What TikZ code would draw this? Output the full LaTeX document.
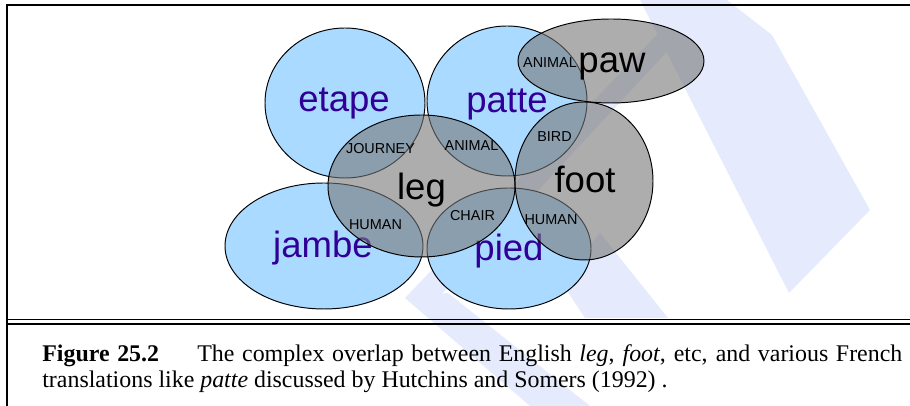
\documentclass[tikz,border=0pt]{standalone}
\usepackage{fontspec}
\setmainfont{Liberation Serif}
\newfontfamily\arialfont{Liberation Sans}
\definecolor{frenchblue}{RGB}{170, 218, 255}
\definecolor{frenchink}{RGB}{48, 0, 150}
\definecolor{englishgray}{RGB}{119, 119, 119}
\definecolor{draftmark}{RGB}{229, 235, 252}
\usetikzlibrary{shapes, positioning}

\begin{document}
\begin{tikzpicture}[
  frenchset/.style={fill=frenchblue, draw=black, line width=0.55pt},
  englishset/.style={fill=englishgray, fill opacity=0.6, draw=black, draw opacity=1, line width=0.55pt},
  frenchword/.style={font=\arialfont\fontsize{20.8}{21}\selectfont, text=frenchink, anchor=base, inner sep=0pt},
  englishword/.style={font=\arialfont\fontsize{20.8}{21}\selectfont, text=black, anchor=base, inner sep=0pt},
  senselabel/.style={font=\arialfont\fontsize{8.2}{9}\selectfont, text=black, anchor=base, inner sep=0pt}
]
  \useasboundingbox (0,0) rectangle (18.2, 8.12);

  % Watermark behind
  \fill[draftmark] (12.80, 8.12) -- (14.54, 8.12) -- (15.44, 7.42) -- (17.40, 3.92) -- (15.78, 2.26) -- cycle;
  \fill[draftmark] (13.80, 8.12) -- (14.30, 8.12) -- (8.80, 2.20) -- (8.10, 2.16) -- cycle;
  \fill[draftmark] (8.10, 2.16) -- (8.96, 2.26) -- (11.80, 0) -- (10.60, 0) -- cycle;
  \fill[draftmark] (12.00, 3.46) -- (13.36, 1.76) -- (11.70, 1.76) -- (11.20, 2.52) -- cycle;

  % French sets
  \draw[frenchset] (6.90, 6.06) ellipse (1.60 and 1.50);
  \draw[frenchset] (10.14, 6.10) ellipse (1.60 and 1.50);
  \draw[frenchset] (6.48, 3.20) ellipse (1.98 and 1.26);
  \draw[frenchset] (10.18, 3.15) ellipse (1.64 and 1.21);

  \node[frenchword] (etape) at (6.88, 5.88) {etape};
  \node[frenchword] (patte) at (10.14, 5.86) {patte};
  \node[frenchword] (jambe) at (6.46, 2.96) {jambe};
  \node[frenchword] (pied) at (10.18, 2.90) {pied};

  % English sets
  \draw[englishset] (8.43, 4.40) ellipse (1.87 and 1.42);
  \draw[englishset] (11.68, 4.50) ellipse (1.38 and 1.58);
  \draw[englishset] (12.22, 6.90) ellipse (1.86 and 0.84);

  \node[englishword] (leg) at (8.43, 4.12) {leg};
  \node[englishword] (foot) at (11.70, 4.26) {foot};
  \node[englishword] (paw) at (12.24, 6.66) {paw};

  % Senses in the overlaps
  \node[senselabel] (journey) at (7.61, 5.04) {JOURNEY};
  \node[senselabel] (animalleg) at (9.43, 5.10) {ANIMAL};
  \node[senselabel] (bird) at (11.09, 5.28) {BIRD};
  \node[senselabel] (humanleg) at (7.51, 3.52) {HUMAN};
  \node[senselabel] (chair) at (9.45, 3.70) {CHAIR};
  \node[senselabel] (humanfoot) at (11.02, 3.62) {HUMAN};
  \node[senselabel] (animalpaw) at (11.00, 6.76) {ANIMAL};

  % Frame and rule
  \draw[line width=1.1pt] (0.14, 0) -- (0.14, 8.02) -- (18.2, 8.02);
  \draw[line width=1pt] (0.14, 1.73) -- (18.2, 1.73);
  \draw[line width=1pt] (0.14, 1.64) -- (18.2, 1.64);

  % Caption
  \node[anchor=base west, inner sep=0pt, text width=17.2cm, align=justify,
        font=\fontsize{13.6}{14.7}\selectfont] (caption) at (0.84, 0.88)
    {\textbf{Figure 25.2}\hspace{1.6em}The complex overlap between English \emph{leg}, \emph{foot}, etc, and various French\linebreak translations like \emph{patte} discussed by Hutchins and Somers (1992)~.};
\end{tikzpicture}
\end{document}
